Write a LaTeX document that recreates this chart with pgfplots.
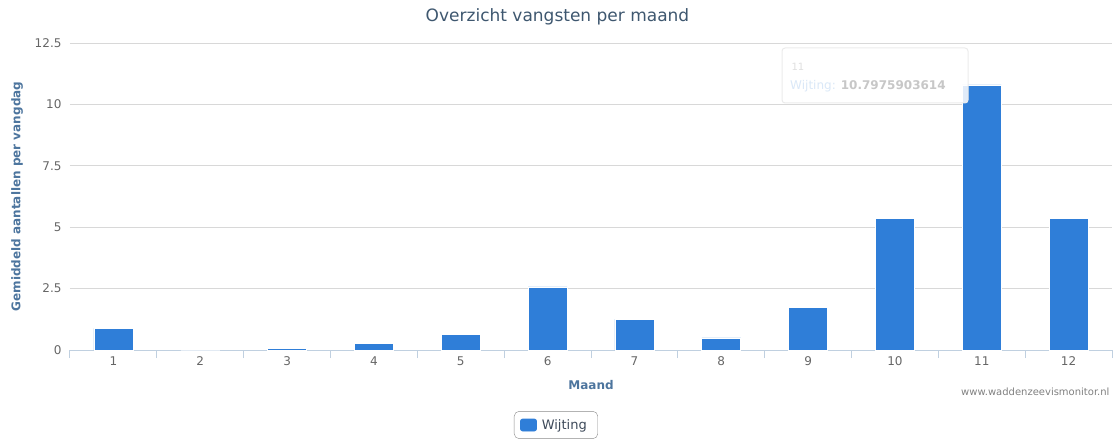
\documentclass[border=0pt]{standalone}
\usepackage{fontspec}
\setmainfont{DejaVu Sans}
\usepackage{pgfplots}
\pgfplotsset{compat=1.18}
\definecolor{barblue}{HTML}{2F7ED8}
\definecolor{titlecol}{HTML}{3E576F}
\definecolor{axtitle}{HTML}{4D759E}
\definecolor{gridc}{HTML}{D8D8D8}
\definecolor{xaxc}{HTML}{C0D0E0}
\definecolor{tickc}{HTML}{666666}
\definecolor{legtxt}{HTML}{3E4A5A}
\begin{document}
\begin{tikzpicture}[x=1pt,y=1pt]
\path[use as bounding box] (0,0) rectangle (1115,442);
\node[font=\fontsize{17}{20}\selectfont, text=titlecol] at (557.5,425) {Overzicht vangsten per maand};
\begin{axis}[
  at={(70pt,92pt)}, anchor=south west,
  scale only axis, width=1042pt, height=307pt,
  xmin=0.5, xmax=12.5, ymin=0, ymax=12.5,
  ybar, bar width=39pt,
  axis x line*=bottom, axis y line*=left,
  y axis line style={draw=none},
  x axis line style={draw=xaxc, line width=1pt, -},
  ymajorgrids, grid style={gridc, line width=0.8pt},
  ytick={0,2.5,5,7.5,10,12.5},
  yticklabels={0,2.5,5,7.5,10,12.5},
  y tick style={draw=none},
  yticklabel style={font=\fontsize{12}{14}\selectfont, text=tickc, xshift=-5pt},
  xtick={1,...,12},
  xticklabels={1,2,3,4,5,6,7,8,9,10,11,12},
  major tick length=0pt,
  tick style={draw=xaxc, line width=1pt},
  xticklabel style={font=\fontsize{12}{14}\selectfont, text=tickc, yshift=-3pt},
  extra x ticks={0.5,1.5,2.5,3.5,4.5,5.5,6.5,7.5,8.5,9.5,10.5,11.5,12.5},
  extra x tick labels={},
  extra x tick style={major tick length=8pt, tick align=outside, tick style={draw=xaxc, line width=1pt}},
  legend style={at={(0.4664,-0.2443)}, anchor=center, draw=black!45, rounded corners=5pt,
    font=\fontsize{13}{15}\selectfont, text=legtxt, inner xsep=6pt, inner ysep=6pt,
    nodes={inner xsep=5pt}},
  legend image code/.code={\fill[barblue, rounded corners=2pt] (0pt,-6pt) rectangle (16pt,6pt);},
  clip=false,
]
\addplot[fill=barblue, draw=white, line width=0.6pt] coordinates {
  (1,0.88) (2,0.0) (3,0.08) (4,0.27) (5,0.64) (6,2.57)
  (7,1.26) (8,0.49) (9,1.75) (10,5.37) (11,10.7975903614) (12,5.37)
};
\addlegendentry{Wijting}
\node[font=\bfseries\fontsize{12}{14}\selectfont, text=axtitle] at (rel axis cs:0.5,0) [yshift=-35pt] {Maand};
\node[font=\bfseries\fontsize{12}{14}\selectfont, text=axtitle, rotate=90] at (rel axis cs:0,0.5) [xshift=0pt, yshift=53pt] {Gemiddeld aantallen per vangdag};
\node[font=\fontsize{10}{12}\selectfont, text=black!50, anchor=east] at (rel axis cs:1,0) [yshift=-42pt, xshift=1pt] {www.waddenzeevismonitor.nl};
\end{axis}
\draw[draw=black!8, fill=white, fill opacity=0.85, rounded corners=3pt, line width=1pt] (782,339) rectangle (968,394);
\node[anchor=west, font=\fontsize{10}{12}\selectfont, text=black!12] at (788,375) {11};
\node[anchor=west, font=\fontsize{12}{14}\selectfont, inner sep=0pt] at (790,356) {\textcolor{barblue!18}{Wijting:} \textcolor{black!22}{\bfseries 10.7975903614}};
\end{tikzpicture}
\end{document}
